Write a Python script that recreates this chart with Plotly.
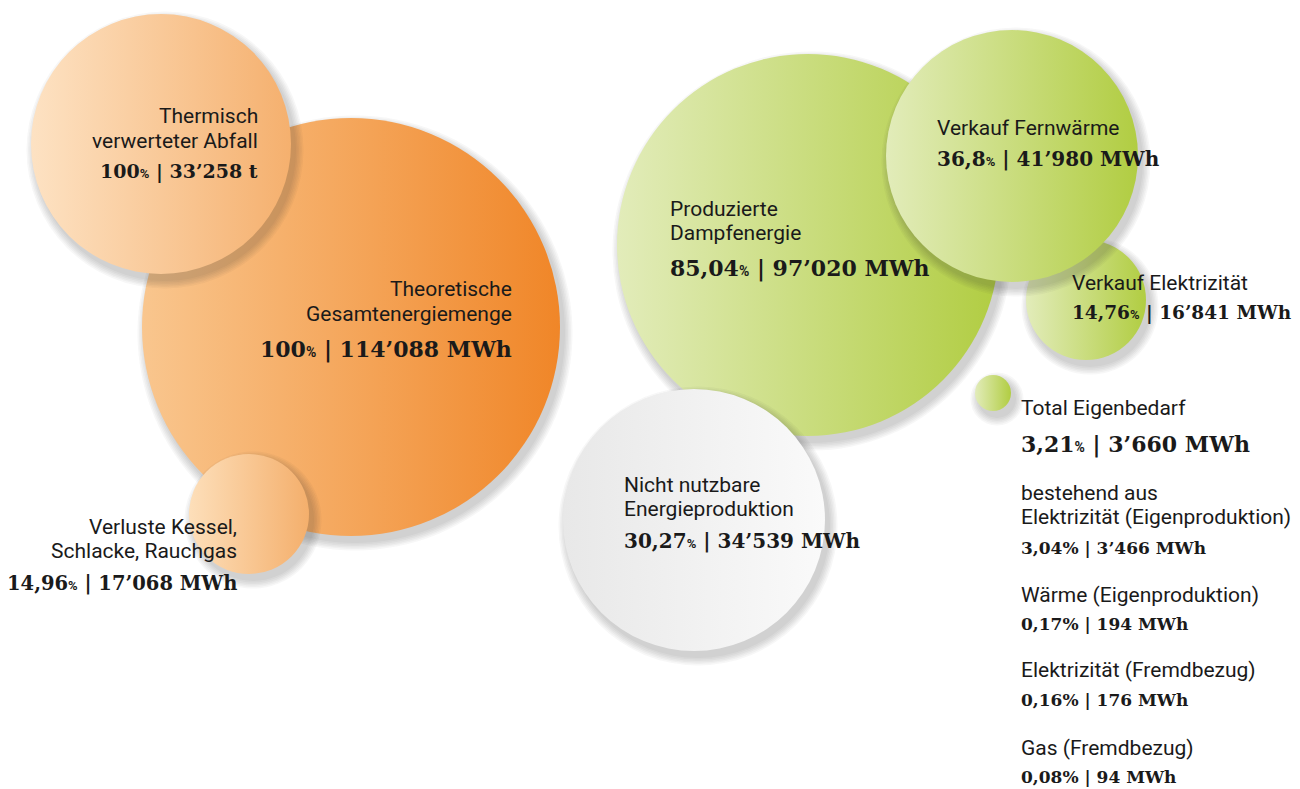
import plotly.graph_objects as go

# ---------------- data ----------------
names = ["Thermisch verwerteter Abfall", "Theoretische Gesamtenergiemenge",
         "Verluste Kessel, Schlacke, Rauchgas", "Produzierte Dampfenergie",
         "Verkauf Fernwärme", "Verkauf Elektrizität",
         "Nicht nutzbare Energieproduktion", "Total Eigenbedarf"]
percents = [100, 100, 14.96, 85.04, 36.8, 14.76, 30.27, 3.21]
amounts = [33258, 114088, 17068, 97020, 41980, 16841, 34539, 3660]
units = ["t", "MWh", "MWh", "MWh", "MWh", "MWh", "MWh", "MWh"]

sub_names = ["Elektrizität (Eigenproduktion)", "Wärme (Eigenproduktion)",
             "Elektrizität (Fremdbezug)", "Gas (Fremdbezug)"]
sub_percents = [3.04, 0.17, 0.16, 0.08]
sub_amounts = [3466, 194, 176, 94]

# ---------------- styling / layout ----------------
# bubble placement (page pixel space), diameter, left colour, right colour
bubbles = {
    1: dict(cx=351, cy=327, d=418, c0="#F9C68E", c1="#F08628"),
    0: dict(cx=161, cy=144, d=260, c0="#FDE2C3", c1="#F5B06E"),
    2: dict(cx=249, cy=514, d=120, c0="#FDDFBA", c1="#F4AF6C"),
    3: dict(cx=808, cy=245, d=382, c0="#E2ECBA", c1="#B1CD42"),
    5: dict(cx=1086, cy=300, d=120, c0="#E2ECBA", c1="#B1CD42"),
    4: dict(cx=1012, cy=156, d=252, c0="#E2ECBA", c1="#B1CD42"),
    6: dict(cx=694, cy=520, d=262, c0="#E8E8E8", c1="#FAFAFA"),
    7: dict(cx=993, cy=393, d=36, c0="#E2ECBA", c1="#B1CD42"),
}
draw_order = [1, 0, 2, 3, 5, 4, 6, 7]

TXT = "#1a1a1a"
SANS = "Roboto, 'Noto Sans', sans-serif"
SLAB = "'Roboto Slab', 'DejaVu Serif', serif"
LABEL_SIZE = 21
PAGE_OFFSET = 8  # default body margin of the html page


def fmt_num(v):
    return f"{v:,}".replace(",", "\u2019")


def fmt_pct(p):
    return f"{p:g}".replace(".", ",")


def value_line(p, v, u, small_pct=True, pct_size=14):
    if small_pct:
        pct = f"<span style='font-family:Roboto;font-size:{pct_size}px'>%</span>"
    else:
        pct = "%"
    return f"<b>{fmt_pct(p)}{pct} | {fmt_num(v)} {u}</b>"


fig = go.Figure()

for k in draw_order:
    b = bubbles[k]
    # soft drop shadow
    for i in range(6):
        fig.add_trace(go.Scatter(
            x=[b["cx"] + 4], y=[b["cy"] + 6], mode="markers", cliponaxis=False,
            marker=dict(size=b["d"] + 2 + i * 3, color="rgba(60,60,60,0.04)",
                        line=dict(width=0)),
            hoverinfo="skip", showlegend=False))
    fig.add_trace(go.Scatter(
        x=[b["cx"]], y=[b["cy"]], mode="markers", cliponaxis=False,
        marker=dict(size=b["d"], color=b["c0"], line=dict(width=0),
                    gradient=dict(type="horizontal", color=b["c1"])),
        hoverinfo="skip", showlegend=False, name=names[k]))

annotations = []


def add_text(x, y, text, size, anchor="left", family=SANS):
    annotations.append(dict(x=x, y=y, xref="x", yref="y", text=text,
                            showarrow=False, xanchor=anchor, yanchor="middle",
                            align=anchor, font=dict(family=family, size=size, color=TXT)))


# label lines per bubble: (x, anchor, [text lines], [y of lines], y of value line, value size)
label_layout = {
    0: (260, "right", ["Thermisch", "verwerteter Abfall"], [116, 141], 171, 19),
    1: (514, "right", ["Theoretische", "Gesamtenergiemenge"], [289, 314], 349, 22),
    2: (239, "right", ["Verluste Kessel,", "Schlacke, Rauchgas"], [527, 551], 583, 19.5),
    3: (668, "left", ["Produzierte", "Dampfenergie"], [209, 233], 268, 22),
    4: (935, "left", ["Verkauf Fernwärme"], [128], 159, 20),
    5: (1070, "left", ["Verkauf Elektrizität"], [283], 313, 18.5),
    6: (622, "left", ["Nicht nutzbare", "Energieproduktion"], [485, 509], 541, 20),
    7: (1019, "left", ["Total Eigenbedarf"], [408], 444, 22),
}

for k, (x, anc, lines, ys, yv, vs) in label_layout.items():
    for line, y in zip(lines, ys):
        add_text(x, y, line, LABEL_SIZE, anc)
    add_text(x, yv, value_line(percents[k], amounts[k], units[k], True, 14 if vs >= 22 else 13),
             vs, anc, SLAB)

add_text(1019, 493, "bestehend aus", LABEL_SIZE)
sub_label_y = [517, 595, 670, 748]
sub_value_y = [548, 624, 700, 777]
for n, p, v, yl, yv in zip(sub_names, sub_percents, sub_amounts, sub_label_y, sub_value_y):
    add_text(1019, yl, n, LABEL_SIZE)
    add_text(1019, yv, value_line(p, v, "MWh", False), 17, "left", SLAB)

W, H = 1300, 789
fig.update_layout(
    width=W - PAGE_OFFSET, height=H - PAGE_OFFSET, autosize=False,
    margin=dict(l=0, r=0, t=0, b=0),
    paper_bgcolor="white", plot_bgcolor="white",
    xaxis=dict(range=[PAGE_OFFSET, W], visible=False, fixedrange=True),
    yaxis=dict(range=[H, PAGE_OFFSET], visible=False, fixedrange=True),
    annotations=annotations,
    showlegend=False,
)

fig.write_html("out.html")
